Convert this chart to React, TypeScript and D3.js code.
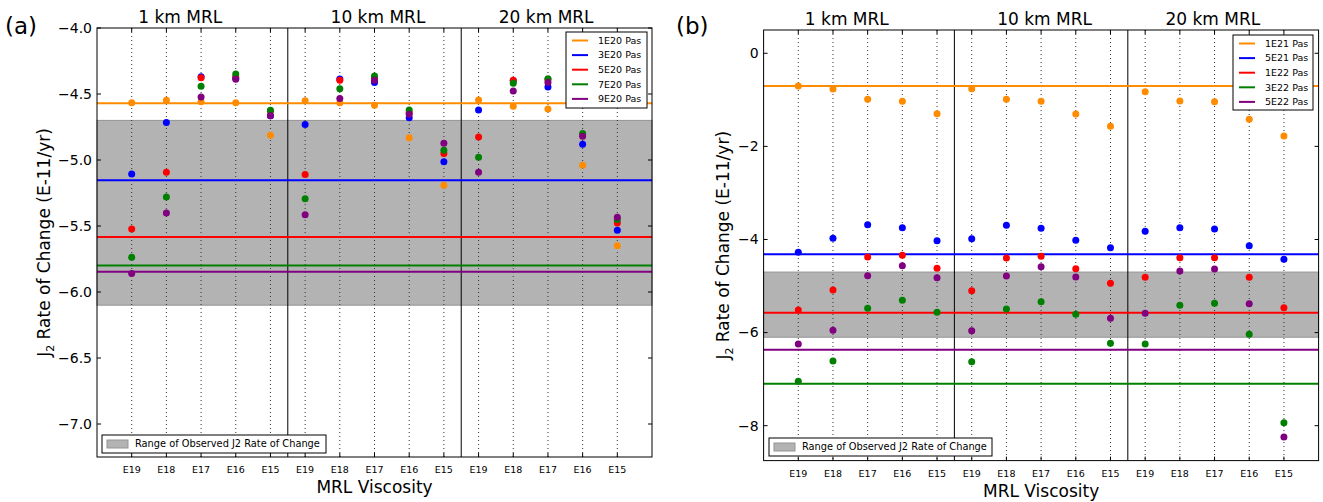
import React from "react";
import * as d3 from "d3";

// x categories (three MRL thickness groups, five viscosities each)
const groups = ["1 km MRL", "10 km MRL", "20 km MRL"];
const viscLabels = ["E19", "E18", "E17", "E16", "E15"];

// Panel (a) series: 15 values each (1km E19..E15, 10km E19..E15, 20km E19..E15)
const namesA = ["1E20 Pas", "3E20 Pas", "5E20 Pas", "7E20 Pas", "9E20 Pas"];
const orangeA = [-4.566, -4.548, -4.558, -4.566, -4.813, -4.551, -4.566, -4.586, -4.831, -5.192, -4.545, -4.593, -4.614, -5.04, -5.649];
const blueA = [-5.106, -4.715, -4.369, -4.381, -4.664, -4.732, -4.386, -4.412, -4.679, -5.013, -4.621, -4.4, -4.447, -4.881, -5.533];
const redA = [-5.523, -5.093, -4.376, -4.37, -4.63, -5.109, -4.396, -4.38, -4.64, -4.95, -4.826, -4.396, -4.39, -4.81, -5.477];
const greenA = [-5.737, -5.28, -4.442, -4.348, -4.624, -5.293, -4.46, -4.364, -4.621, -4.927, -4.98, -4.419, -4.384, -4.8, -5.45];
const purpleA = [-5.859, -5.402, -4.523, -4.389, -4.664, -5.414, -4.535, -4.396, -4.654, -4.874, -5.093, -4.477, -4.412, -4.82, -5.434];
const linesA = [-4.571, -5.154, -5.583, -5.8, -5.846];
const ticksA = [-7.0, -6.5, -6.0, -5.5, -5.0, -4.5, -4.0];

// Panel (b) series
const namesB = ["1E21 Pas", "5E21 Pas", "1E22 Pas", "3E22 Pas", "5E22 Pas"];
const orangeB = [-0.703, -0.767, -0.988, -1.031, -1.297, -0.76, -0.988, -1.031, -1.304, -1.568, -0.825, -1.025, -1.04, -1.418, -1.777];
const blueB = [-4.276, -3.975, -3.682, -3.746, -4.026, -3.983, -3.695, -3.759, -4.017, -4.176, -3.824, -3.746, -3.774, -4.133, -4.425];
const redB = [-5.515, -5.085, -4.376, -4.34, -4.619, -5.1, -4.398, -4.361, -4.627, -4.941, -4.812, -4.391, -4.391, -4.812, -5.465];
const greenB = [-7.047, -6.61, -5.478, -5.306, -5.564, -6.625, -5.493, -5.336, -5.607, -6.23, -6.245, -5.414, -5.371, -6.037, -7.936];
const purpleB = [-6.245, -5.951, -4.777, -4.562, -4.82, -5.959, -4.784, -4.584, -4.806, -5.693, -5.585, -4.677, -4.634, -5.379, -8.243];
const linesB = [-0.703, -4.318, -5.572, -7.097, -6.367];
const ticksB = [-8, -6, -4, -2, 0];

// Observed range
const observedRange = [-6.1, -4.7];

const colors = ["#ff8c00", "#0000ff", "#ff0000", "#008000", "#800080"];
const FONT = "DejaVu Sans, Verdana, sans-serif";

type PanelProps = {
  label: string;
  left: number;
  right: number;
  top: number;
  bottom: number;
  yDomain: [number, number];
  yTicks: number[];
  yFmt: (v: number) => string;
  series: number[][];
  lines: number[];
  names: string[];
  legendBox: { x: number; y: number; w: number; h: number };
  bandLegend: { x: number; y: number; w: number; h: number };
  ylabelX: number;
  tagX: number;
};

function Panel(p: PanelProps) {
  const x = d3.scaleLinear().domain([0, 16]).range([p.left, p.right]);
  const y = d3.scaleLinear().domain(p.yDomain).range([p.bottom, p.top]);
  const positions = d3.range(15).map((i) => 1 + Math.floor(i / 5) * 5 + (i % 5));
  const seps = [5.5, 10.5];
  const titleX = [2.4, 8.1, 12.95];
  const cy = (p.top + p.bottom) / 2;
  const lb = p.legendBox;
  const bl = p.bandLegend;
  return (
    <g fontFamily={FONT}>
      {/* observed band */}
      <rect
        x={p.left}
        width={p.right - p.left}
        y={y(observedRange[1])}
        height={y(observedRange[0]) - y(observedRange[1])}
        fill="#b3b3b3"
        stroke="#949494"
        strokeWidth={1}
      />
      {/* dotted vertical grid */}
      {positions.map((v, i) => (
        <line
          key={"g" + i}
          x1={x(v)}
          x2={x(v)}
          y1={p.top}
          y2={p.bottom}
          stroke="#333"
          strokeWidth={1}
          strokeDasharray="1,3"
        />
      ))}
      {/* separators */}
      {seps.map((v) => (
        <line key={"s" + v} x1={x(v)} x2={x(v)} y1={p.top} y2={p.bottom} stroke="#000" strokeWidth={1} />
      ))}
      {/* horizontal reference lines */}
      {p.lines.map((v, i) => (
        <line key={"h" + i} x1={p.left} x2={p.right} y1={y(v)} y2={y(v)} stroke={colors[i]} strokeWidth={2} />
      ))}
      {/* points */}
      {p.series.map((s, si) =>
        s.map((v, i) => <circle key={"p" + si + "-" + i} cx={x(positions[i])} cy={y(v)} r={3.5} fill={colors[si]} />)
      )}
      {/* frame */}
      <rect x={p.left} y={p.top} width={p.right - p.left} height={p.bottom - p.top} fill="none" stroke="#000" strokeWidth={1} />
      {/* y ticks */}
      {p.yTicks.map((v) => (
        <g key={"yt" + v}>
          <line x1={p.left} x2={p.left + 4} y1={y(v)} y2={y(v)} stroke="#000" />
          <line x1={p.right - 4} x2={p.right} y1={y(v)} y2={y(v)} stroke="#000" />
          <text x={p.left - 5} y={y(v)} dy="0.35em" textAnchor="end" fontSize={14}>
            {p.yFmt(v)}
          </text>
        </g>
      ))}
      {/* x ticks */}
      {positions.map((v, i) => (
        <g key={"xt" + i}>
          <line x1={x(v)} x2={x(v)} y1={p.bottom} y2={p.bottom - 4} stroke="#000" />
          <line x1={x(v)} x2={x(v)} y1={p.top} y2={p.top + 4} stroke="#000" />
          <text x={x(v)} y={p.bottom + 16} textAnchor="middle" fontSize={9.5}>
            {viscLabels[i % 5]}
          </text>
        </g>
      ))}
      {/* group titles */}
      {groups.map((g, i) => (
        <text key={g} x={x(titleX[i])} y={p.top - 5} textAnchor="middle" fontSize={17}>
          {g}
        </text>
      ))}
      {/* axis labels */}
      <text x={(p.left + p.right) / 2} y={p.bottom + 36} textAnchor="middle" fontSize={17}>
        MRL Viscosity
      </text>
      <text transform={`translate(${p.ylabelX},${cy}) rotate(-90)`} textAnchor="middle" fontSize={17}>
        J<tspan fontSize={11} dy={4}>2</tspan>
        <tspan dy={-4}> Rate of Change (E-11/yr)</tspan>
      </text>
      <text x={p.tagX} y={34} fontSize={23}>
        {p.label}
      </text>
      {/* series legend */}
      <rect x={lb.x} y={lb.y} width={lb.w} height={lb.h} fill="#fff" stroke="#000" strokeWidth={1} />
      {p.names.map((n, i) => {
        const yy = lb.y + 8.5 + i * 14.6;
        return (
          <g key={n}>
            <line x1={lb.x + 6} x2={lb.x + 22} y1={yy} y2={yy} stroke={colors[i]} strokeWidth={2} />
            <text x={lb.x + 32} y={yy} dy="0.35em" fontSize={9.5}>
              {n}
            </text>
          </g>
        );
      })}
      {/* band legend */}
      <rect x={bl.x} y={bl.y} width={bl.w} height={bl.h} fill="#fff" stroke="#000" strokeWidth={1} />
      <rect x={bl.x + 5} y={bl.y + bl.h / 2 - 4} width={21} height={8} fill="#b3b3b3" stroke="#949494" />
      <text x={bl.x + 33} y={bl.y + bl.h / 2} dy="0.35em" fontSize={9.8}>
        Range of Observed J2 Rate of Change
      </text>
    </g>
  );
}

export default function App() {
  const fmtA = d3.format(".1f");
  const fmtB = d3.format("d");
  return (
    <svg
      width={1323}
      height={502}
      style={{ position: "absolute", left: 0, top: 0, background: "#fff" }}
    >
      <rect width={1323} height={502} fill="#fff" />
      <Panel
        label="(a)"
        left={97}
        right={652}
        top={28}
        bottom={457}
        yDomain={[-7.25, -4.0]}
        yTicks={ticksA}
        yFmt={fmtA}
        series={[orangeA, blueA, redA, greenA, purpleA]}
        lines={linesA}
        names={namesA}
        legendBox={{ x: 566, y: 32, w: 81, h: 76 }}
        bandLegend={{ x: 102, y: 435, w: 224, h: 18 }}
        ylabelX={50}
        tagX={5}
      />
      <Panel
        label="(b)"
        left={763.6}
        right={1318.6}
        top={30}
        bottom={460.6}
        yDomain={[-8.75, 0.5]}
        yTicks={ticksB}
        yFmt={fmtB}
        series={[orangeB, blueB, redB, greenB, purpleB]}
        lines={linesB}
        names={namesB}
        legendBox={{ x: 1233, y: 35, w: 80, h: 75 }}
        bandLegend={{ x: 769, y: 438, w: 223, h: 18 }}
        ylabelX={729}
        tagX={676}
      />
    </svg>
  );
}
